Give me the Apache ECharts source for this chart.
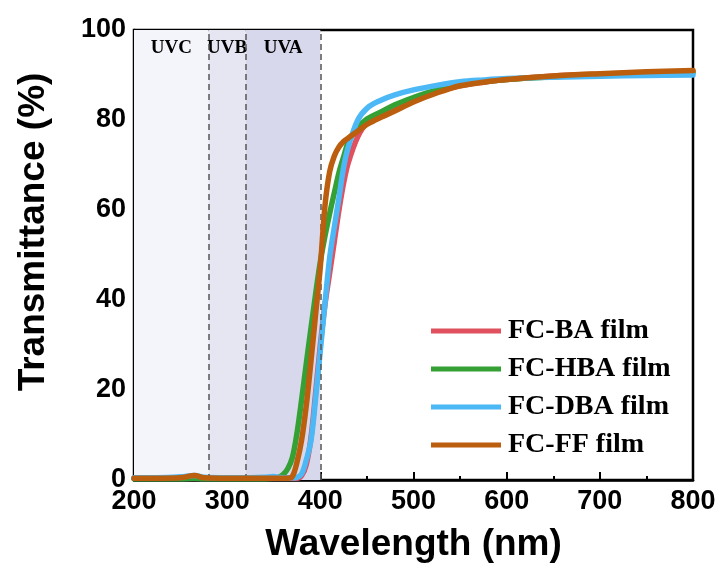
<!DOCTYPE html>
<html><head><meta charset="utf-8">
<script src="https://cdn.jsdelivr.net/npm/echarts@6/dist/echarts.min.js"></script>
<style>html,body{margin:0;padding:0;background:#fff}#c{width:721px;height:568px}</style>
</head><body><div id="c"></div>
<script>
const wavelengths = [200,225,250,265,275,300,325,340,350,355,360,365,370,375,380,385,390,395,400,405,410,415,420,425,430,440,450,465,480,500,525,550,575,600,650,700,750,800];
const seriesNames = ['FC-BA film','FC-HBA film','FC-DBA film','FC-FF film'];
const seriesColors = ['#e0505f','#35a135','#4cb8f5','#bb5e0e'];
const tBA  = [0.4,0.4,0.4,0.5,0.4,0.4,0.4,0.4,0.4,0.4,0.4,0.4,0.4,0.4,1.0,3.5,9.5,19.5,30,39,46,53,60,66,70.5,76.2,79.3,81.3,82.7,84.5,86.3,87.6,88.4,89.0,89.8,90.2,90.5,90.8];
const tHBA = [0.3,0.3,0.3,0.4,0.3,0.3,0.3,0.3,0.4,0.6,1.2,2.5,5,10.5,18,26,33.8,41.4,48.5,54.2,59.2,63.8,68.3,71.8,75,78.2,80.2,81.8,83.4,85,86.7,87.8,88.5,89.0,89.6,90.0,90.3,90.5];
const tDBA = [0.5,0.5,0.7,1.0,0.6,0.5,0.5,0.6,0.8,0.6,0.5,0.5,0.5,0.6,1.4,4.5,8.8,18.3,28.8,39.2,49.4,56.2,62.7,69.5,74,79.9,82.6,84.4,85.6,86.7,87.7,88.5,88.9,89.2,89.5,89.7,89.9,90.0];
const tFF  = [0.4,0.4,0.5,1.0,0.5,0.4,0.4,0.4,0.4,0.4,0.4,0.4,0.8,4,9,16.7,26.5,37,47.4,61,68.5,72,74,75.2,76,77.5,79,80.6,82,84,86,87.6,88.4,89.0,89.8,90.3,90.7,91.0];
const seriesValues = [tBA, tHBA, tDBA, tFF];
const uvBands = [['UVC',200,280],['UVB',280,320],['UVA',320,400]];
const bandColors = ['#f4f4fb','#e6e6f3','#d8d8ec'];
const bandBorders = [280,320,400];
const xRange = [200,800], xStep = 100;
const yRange = [0,100], yStep = 20;

const chart = echarts.init(document.getElementById('c'), null, {renderer:'canvas'});
const axisFont = {fontFamily:'Liberation Sans', fontWeight:'bold', fontSize:27, color:'#000'};
const nameFont = {fontFamily:'Liberation Sans', fontWeight:'bold', fontSize:37, color:'#000'};

const series = [{
  type:'line', name:'bands', data:[], z:1, silent:true,
  markArea:{silent:true,
    label:{show:true, position:'insideTop', distance:9, fontFamily:'Liberation Serif', fontWeight:'bold', fontSize:19, color:'#000'},
    data: uvBands.map((b,i)=>[{name:b[0], xAxis:b[1], itemStyle:{color:bandColors[i]}},{xAxis:b[2]}])
  },
  markLine:{silent:true, symbol:['none','none'], label:{show:false},
    lineStyle:{color:'#555', type:[6,4], width:1.5},
    data: bandBorders.map(v=>({xAxis:v}))
  }
}];
seriesNames.forEach((n,i)=>{
  series.push({
    type:'line', name:n, color:seriesColors[i], z:2+i,
    data: wavelengths.map((w,j)=>[w, seriesValues[i][j]]),
    showSymbol:false, smooth:0.35,
    lineStyle:{width:5.5, color:seriesColors[i], cap:'round', join:'round'}
  });
});

chart.setOption({
  animation:false,
  backgroundColor:'#fff',
  grid:{left:134, right:28, top:30, bottom:88, show:true, borderColor:'#000', borderWidth:2.5, backgroundColor:'transparent'},
  legend:{data:seriesNames, orient:'vertical', left:431, top:317, padding:0, itemWidth:70, itemHeight:5, itemGap:10, icon:'rect',
    textStyle:{fontFamily:'Liberation Serif', fontWeight:'bold', fontSize:28, color:'#000', padding:[0,0,0,2]}},
  xAxis:{type:'value', min:xRange[0], max:xRange[1], interval:xStep,
    name:'Wavelength (nm)', nameLocation:'middle', nameGap:46, nameTextStyle:nameFont,
    axisLine:{show:true, lineStyle:{color:'#000', width:2.5}},
    axisTick:{show:true, inside:true, length:8, lineStyle:{color:'#000', width:2}},
    minorTick:{show:true, splitNumber:2, length:4, lineStyle:{color:'#000', width:2}},
    axisLabel:Object.assign({margin:8}, axisFont),
    splitLine:{show:false}},
  yAxis:{type:'value', min:yRange[0], max:yRange[1], interval:yStep,
    name:'Transmittance (%)', nameLocation:'middle', nameGap:82, nameTextStyle:Object.assign({padding:[0,0,0,46]}, nameFont),
    axisLine:{show:true, lineStyle:{color:'#000', width:2.5}},
    axisTick:{show:true, inside:true, length:8, lineStyle:{color:'#000', width:2}},
    minorTick:{show:true, splitNumber:2, length:4, lineStyle:{color:'#000', width:2}},
    axisLabel:Object.assign({margin:8}, axisFont),
    splitLine:{show:false}},
  series: series
});
</script></body></html>
